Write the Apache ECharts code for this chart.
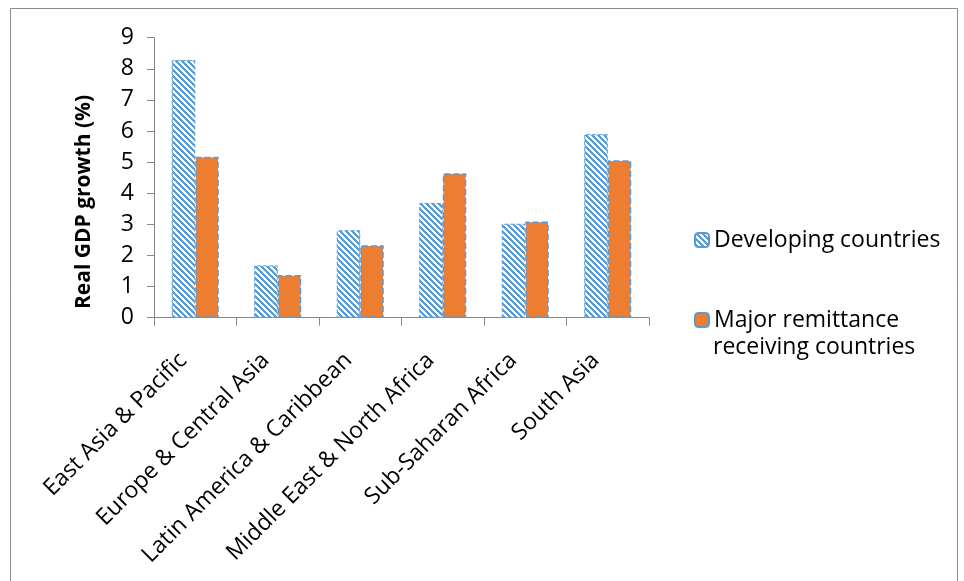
<!DOCTYPE html>
<html>
<head>
<meta charset="utf-8">
<script src="https://cdn.jsdelivr.net/npm/echarts@6/dist/echarts.min.js"></script>
<style>
  html, body { margin: 0; padding: 0; background: #fff; }
  #main { width: 964px; height: 581px; }
</style>
</head>
<body>
<div id="main"></div>
<script>
var regions = ['East Asia & Pacific', 'Europe & Central Asia', 'Latin America & Caribbean',
  'Middle East & North Africa', 'Sub-Saharan Africa', 'South Asia'];
var developing = [8.28, 1.68, 2.81, 3.69, 3.02, 5.90];
var remittance = [5.17, 1.37, 2.33, 4.64, 3.09, 5.06];
var yTicks = [0, 9, 1]; // min, max, step

var FONT = 'Open Sans';
var BLUE = '#5B9BD5';
var ORANGE = '#ED7D31';

// wide downward diagonal hatch, like the excel pattern fill
function hatch() {
  var s = 6;
  var c = document.createElement('canvas');
  c.width = s; c.height = s;
  var ctx = c.getContext('2d');
  var img = ctx.createImageData(s, s);
  for (var y = 0; y < s; y++) {
    for (var x = 0; x < s; x++) {
      var i = (y * s + x) * 4;
      var on = ((x - y) % s + s) % s < 3;
      img.data[i] = on ? 0x5B : 255;
      img.data[i + 1] = on ? 0x9B : 255;
      img.data[i + 2] = on ? 0xD5 : 255;
      img.data[i + 3] = 255;
    }
  }
  ctx.putImageData(img, 0, 0);
  return c;
}

var legendText = { fontFamily: FONT, fontSize: 23, color: '#000', lineHeight: 27 };

var myChart = echarts.init(document.getElementById('main'));
myChart.setOption({
  animation: false,
  textStyle: { fontFamily: FONT },
  grid: { left: 154, right: 315, top: 37.7, bottom: 263.3, containLabel: false },
  graphic: [
    {
      type: 'rect', silent: true,
      shape: { x: 10.5, y: 8.5, width: 947, height: 600 },
      style: { fill: 'none', stroke: '#8c8c8c', lineWidth: 1 }
    },
    {
      type: 'text', silent: true,
      x: 84, y: 202, rotation: Math.PI / 2,
      style: {
        text: 'Real GDP growth (%)', fontFamily: FONT, fontWeight: 'bold',
        fontSize: 21, fill: '#000', align: 'center', verticalAlign: 'middle'
      }
    },
    {
      // second line of the remittance legend entry
      type: 'text', silent: true,
      x: 713, y: 347,
      style: {
        text: 'receiving countries', fontFamily: FONT, fontSize: 23,
        fill: '#000', align: 'left', verticalAlign: 'middle'
      }
    }
  ],
  legend: [
    {
      orient: 'vertical', left: 694, top: 226.5, padding: 0,
      itemWidth: 14, itemHeight: 14, itemGap: 0,
      data: ['Developing countries'],
      textStyle: legendText
    },
    {
      orient: 'vertical', left: 694, top: 306.5, padding: 0,
      itemWidth: 14, itemHeight: 14, itemGap: 0,
      data: ['Major remittance receiving countries'],
      formatter: function () { return 'Major remittance'; },
      textStyle: legendText
    }
  ],
  xAxis: {
    type: 'category',
    data: regions,
    axisLine: { lineStyle: { color: '#868686', width: 1 } },
    axisTick: { show: true, length: 8, lineStyle: { color: '#868686' } },
    axisLabel: {
      interval: 0, rotate: 45, margin: 27, padding: [0, 17, 0, 0],
      fontFamily: FONT, fontSize: 23, color: '#000'
    },
    splitLine: { show: false }
  },
  yAxis: {
    type: 'value',
    min: yTicks[0], max: yTicks[1], interval: yTicks[2],
    axisLine: { show: true, lineStyle: { color: '#868686', width: 1 } },
    axisTick: { show: true, length: 7, lineStyle: { color: '#868686' } },
    axisLabel: { margin: 20, fontFamily: FONT, fontSize: 23, color: '#000' },
    splitLine: { show: false }
  },
  series: [
    {
      name: 'Developing countries',
      type: 'bar',
      data: developing,
      barGap: '0%',
      barCategoryGap: '43%',
      itemStyle: {
        color: { image: hatch(), repeat: 'repeat' },
        borderColor: BLUE, borderWidth: 1, borderType: 'dashed'
      }
    },
    {
      name: 'Major remittance receiving countries',
      type: 'bar',
      data: remittance,
      barGap: '0%',
      barCategoryGap: '43%',
      itemStyle: {
        color: ORANGE,
        borderColor: BLUE, borderWidth: 1.5, borderType: 'dashed'
      }
    }
  ]
});
</script>
</body>
</html>
